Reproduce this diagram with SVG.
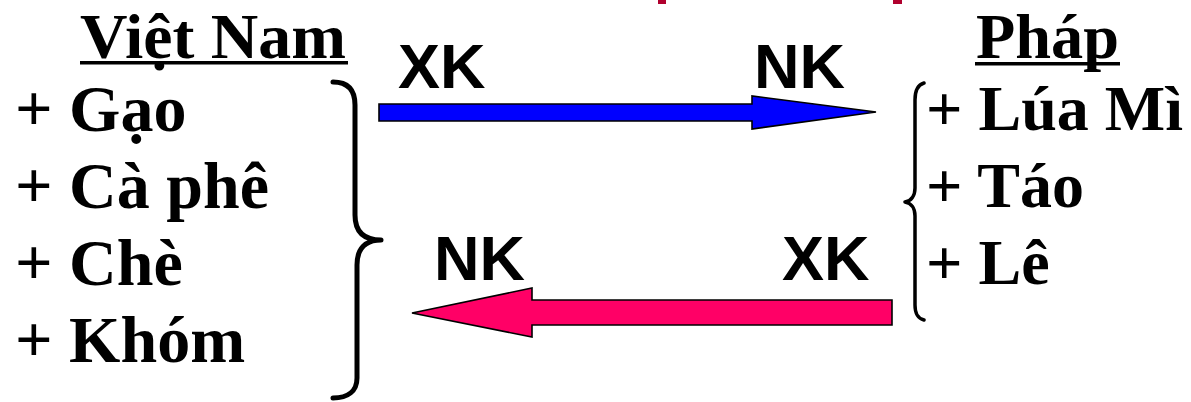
<svg xmlns="http://www.w3.org/2000/svg" width="1191" height="402" viewBox="0 0 1191 402">
  <style>
    .title { font-family: "Liberation Serif", "Times New Roman", serif; font-weight: bold; font-size: 64px; fill: #000; }
    .item { font-family: "Liberation Serif", "Times New Roman", serif; font-weight: bold; font-size: 66px; fill: #000; }
    .item-r { font-family: "Liberation Serif", "Times New Roman", serif; font-weight: bold; font-size: 64px; fill: #000; }
    .flow { font-family: "Liberation Sans", Arial, sans-serif; font-weight: bold; font-size: 63px; fill: #000; }
    .brace { fill: none; stroke: #000; stroke-linecap: round; stroke-linejoin: round; }
    .arrow { stroke: #000; stroke-width: 1.6; stroke-linejoin: miter; }
    .mark { fill: #B0002E; }
  </style>

  <rect width="1191" height="402" fill="#fff"/>

  <!-- fragments of the heading cut off at the top edge -->
  <rect class="mark" x="658" y="0" width="8" height="4"/>
  <rect class="mark" x="893" y="0" width="9" height="4"/>

  <!-- Vietnam: exports -->
  <g id="vietnam">
    <text class="title" x="80" y="58" textLength="266" lengthAdjust="spacingAndGlyphs">Việt Nam</text>
    <rect x="80" y="61" width="268" height="3.5" fill="#000"/>
    <text class="item" x="15" y="131">+ Gạo</text>
    <text class="item" x="15" y="208">+ Cà phê</text>
    <text class="item" x="15" y="285">+ Chè</text>
    <text class="item" x="15" y="362">+ Khóm</text>
    <path class="brace" stroke-width="5" d="M 333 82 C 349 82, 355 91, 355 105 L 355 215 C 355 232, 364 240, 381 240 C 365 240, 357 249, 357 265 L 357 378 C 357 391, 348 398, 333 398"/>
  </g>

  <!-- France: exports -->
  <g id="phap">
    <text class="title" x="976" y="58" textLength="143" lengthAdjust="spacingAndGlyphs">Pháp</text>
    <rect x="975" y="62" width="145" height="3.5" fill="#000"/>
    <text class="item-r" x="926" y="130">+ Lúa Mì</text>
    <text class="item-r" x="926" y="207">+ Táo</text>
    <text class="item-r" x="926" y="284">+ Lê</text>
    <path class="brace" stroke-width="3.5" d="M 924 83 C 917 85, 915 92, 915 100 L 915 188 C 915 196, 911 201, 905 202 C 911 203, 915 208, 915 216 L 915 305 C 915 313, 917 318, 924 320"/>
  </g>

  <!-- trade flows -->
  <g id="connectors">
    <path class="arrow" fill="#0000FF" d="M 379 104 L 752 104 L 752 96 L 876 112 L 752 129 L 752 121 L 379 121 Z"/>
    <text class="flow" x="398" y="88">XK</text>
    <text class="flow" x="754" y="88">NK</text>

    <path class="arrow" fill="#FF0066" d="M 892 300 L 532 300 L 532 288 L 412 313 L 532 337 L 532 325 L 892 325 Z"/>
    <text class="flow" x="434" y="280">NK</text>
    <text class="flow" x="782" y="280">XK</text>
  </g>
</svg>
